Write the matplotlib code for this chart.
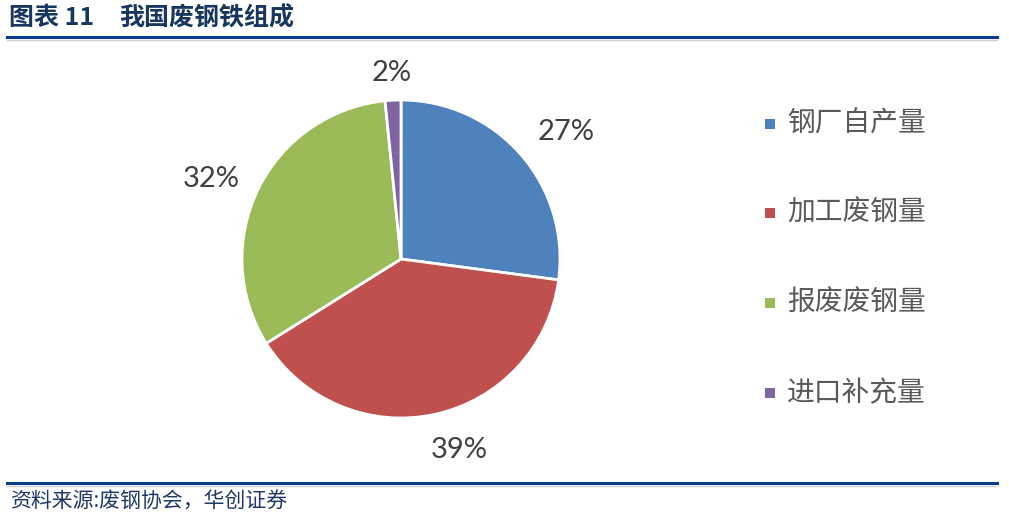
import matplotlib
matplotlib.use("Agg")
import numpy as np
import matplotlib.pyplot as plt
from matplotlib.lines import Line2D
from matplotlib.patches import Rectangle

plt.rcParams['font.family'] = ['Noto Sans CJK SC', 'DejaVu Sans']

# data
labels = ['钢厂自产量', '加工废钢量', '报废废钢量', '进口补充量']
shares = [27.1, 39.0, 32.3, 1.6]
colors = ['#4F81BD', '#C0504D', '#9BBB59', '#8064A2']

title_no = '图表 11'
title = '我国废钢铁组成'
source = '资料来源:废钢协会，华创证券'

W, H = 1009, 523
fig = plt.figure(figsize=(W / 100, H / 100), dpi=100)

# pie axes: center (401, 259) px from top, radius 159 px
cx, cy, r = 401, 259, 159
half = r * 1.5
ax = fig.add_axes([(cx - half) / W, (H - cy - half) / H, 2 * half / W, 2 * half / H])
wedges, texts, autotexts = ax.pie(
    shares, colors=colors, startangle=90, counterclock=False, radius=1,
    autopct='%.0f%%', pctdistance=1.25,
    wedgeprops=dict(edgecolor='white', linewidth=2),
    textprops=dict(fontsize=21, color='#404040', family=['Lato', 'DejaVu Sans']))

# push the labels out like excel's best fit does
label_dist = [1.32, 1.24, 1.30, 1.19]
label_turn = [-3, 5, 2.5, 0]
for w, t, d, a in zip(wedges, autotexts, label_dist, label_turn):
    mid = np.deg2rad((w.theta1 + w.theta2) / 2 + a)
    t.set_position((d * np.cos(mid), d * np.sin(mid)))
    t.set_va('center_baseline')

ax.set_xlim(-1.5, 1.5)
ax.set_ylim(-1.5, 1.5)
ax.axis('off')

# legend drawn by hand
leg_y = [124, 213, 303, 393]
for lab, col, y in zip(labels, colors, leg_y):
    fig.add_artist(Rectangle(((765) / W, (H - y - 5) / H), 10 / W, 10 / H,
                             transform=fig.transFigure, facecolor=col, edgecolor='none'))
    fig.text(787 / W, (H - y) / H, lab, fontsize=20, color='#595959', va='center', ha='left')

# header / footer
navy = '#0B3C8C'
fig.text(9 / W, (H - 18) / H, title_no, fontsize=18, fontweight='bold', color='#17375E',
         va='center', ha='left')
fig.text(119 / W, (H - 18) / H, title, fontsize=18, fontweight='bold', color='#17375E',
         va='center', ha='left')
for y in (37, 483):
    fig.add_artist(Line2D([7 / W, 997 / W], [(H - y) / H] * 2, transform=fig.transFigure,
                          color=navy, linewidth=2.2))
    fig.add_artist(Line2D([7 / W, 997 / W], [(H - y - 2.5) / H] * 2, transform=fig.transFigure,
                          color='#D0D0D0', linewidth=1))
fig.text(10 / W, (H - 501) / H, source, fontsize=15, color='#1F3864', style='italic',
         va='center', ha='left')

fig.savefig('out.png', dpi=100, facecolor='white')
